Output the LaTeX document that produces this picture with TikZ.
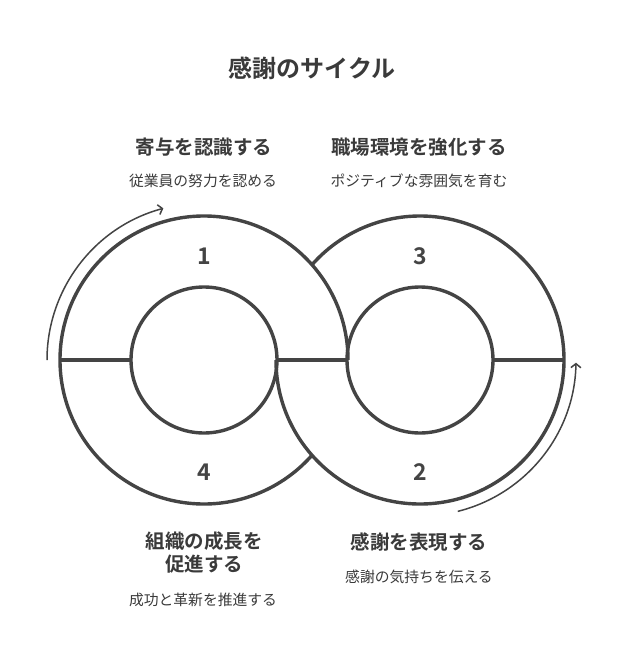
\documentclass[tikz,border=0pt]{standalone}
\usepackage{fontspec}
\newfontfamily\jp{Noto Sans CJK JP}
\newfontfamily\jpb{Noto Sans CJK JP Bold}
\usetikzlibrary{arrows.meta,calc}
\definecolor{ink}{HTML}{444444}
\definecolor{txt}{HTML}{3A3A3A}
\tikzset{
  ring/.style={circle,draw=ink,line width=3.4pt,inner sep=0pt,outer sep=0pt},
  ghost/.style={circle,inner sep=0pt,outer sep=0pt},
  edge/.style={draw=ink,line width=3.4pt},
  flow/.style={draw=ink,line width=1.5pt,-{Straight Barb[length=4pt,width=10pt,line width=1.5pt]}},
  title/.style={font=\jpb\fontsize{24}{28}\selectfont,text=txt},
  head/.style={font=\jpb\fontsize{19.5}{25}\selectfont,text=txt,align=center},
  sub/.style={font=\jp\fontsize{14.8}{18}\selectfont,text=txt},
  num/.style={font=\jpb\fontsize{23}{26}\selectfont,text=ink}
}
\begin{document}
\begin{tikzpicture}[x=1pt,y=1pt]
\useasboundingbox (0,0) rectangle (624,-672);
% circles
\node[ghost,minimum size=288pt] (lo) at (204,-360) {};
\node[ghost,minimum size=288pt] (ro) at (420,-360) {};
\node[ring,minimum size=146pt] (li) at (204,-360) {};
\node[ring,minimum size=146pt] (ri) at (420,-360) {};
\draw[edge] (lo.east) arc[start angle=0,end angle=318.6,radius=144pt];
\draw[edge] (ro.west) arc[start angle=180,end angle=498.6,radius=144pt];
% spokes
\draw[edge] (lo.west) -- (li.west);
\draw[edge] (li.east) -- (ri.west);
\draw[edge] (ri.east) -- (ro.east);
% arrows
\coordinate (a1s) at ($(lo.center)+(180:157pt)$);
\coordinate (a2s) at ($(ro.center)+(-76:156pt)$);
\draw[flow] (a1s) arc[start angle=180,end angle=105,radius=157pt];
\draw[flow] (a2s) arc[start angle=-76,end angle=-1,radius=156pt];
% numbers
\node[num] (n1) at (204,-256) {1};
\node[num] (n3) at (420,-256) {3};
\node[num] (n4) at (204,-472) {4};
\node[num] (n2) at (420,-472) {2};
% texts
\node[title] (t) at (312,-68) {感謝のサイクル};
\node[head] (h1) at (204,-147) {寄与を認識する};
\node[sub] (s1) at (203,-181) {従業員の努力を認める};
\node[head] (h3) at (419,-147) {職場環境を強化する};
\node[sub] (s3) at (419,-181) {ポジティブな雰囲気を育む};
\node[head,text width=160pt] (h4) at (204,-553) {組織の成長を\\[-2pt]促進する};
\node[sub] (s4) at (203,-600) {成功と革新を推進する};
\node[head] (h2) at (419,-542) {感謝を表現する};
\node[sub] (s2) at (419,-577) {感謝の気持ちを伝える};
\end{tikzpicture}
\end{document}
